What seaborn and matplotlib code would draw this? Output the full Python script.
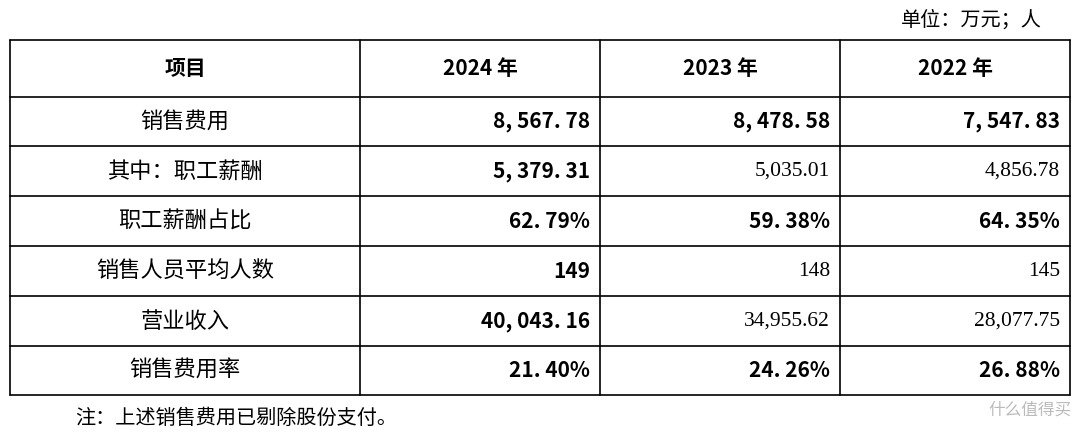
import matplotlib
matplotlib.use("Agg")
import matplotlib.pyplot as plt
import seaborn as sns

sns.set_theme(style="white")
plt.rcParams['font.family'] = ['Noto Sans CJK SC', 'DejaVu Sans']

headers = ["项目", "2024 年", "2023 年", "2022 年"]
items = ["销售费用", "其中：职工薪酬", "职工薪酬占比", "销售人员平均人数", "营业收入", "销售费用率"]
v2024 = ["8, 567. 78", "5, 379. 31", "62. 79%", "149", "40, 043. 16", "21. 40%"]
v2023 = ["8, 478. 58", "5,035.01", "59. 38%", "148", "34,955.62", "24. 26%"]
v2022 = ["7, 547. 83", "4,856.78", "64. 35%", "145", "28,077.75", "26. 88%"]
bold2024 = [True, True, True, True, True, True]
bold2023 = [True, False, True, False, False, True]
bold2022 = [True, False, True, False, False, True]

fig = plt.figure(figsize=(10.8, 4.33), dpi=100)
ax = fig.add_axes([0, 0, 1, 1])
ax.set_xlim(0, 1080)
ax.set_ylim(433, 0)
ax.axis("off")

cols = [10, 360, 600, 840, 1070]
rows = [40, 97, 146, 196, 246, 296, 346, 395]

for y in rows:
    ax.plot([cols[0], cols[-1]], [y, y], color="black", lw=1.2)
for x in cols:
    ax.plot([x, x], [rows[0], rows[-1]], color="black", lw=1.2)

for i, h in enumerate(headers):
    ax.text((cols[i] + cols[i + 1]) / 2, (rows[0] + rows[1]) / 2, h,
            ha="center", va="center", fontsize=15, fontweight="bold", color="black")

for r, name in enumerate(items):
    yc = (rows[r + 1] + rows[r + 2]) / 2
    ax.text((cols[0] + cols[1]) / 2, yc, name, ha="center", va="center",
            fontsize=16, color="black")
    for c, (vals, bolds) in enumerate([(v2024, bold2024), (v2023, bold2023), (v2022, bold2022)]):
        b = bolds[r]
        ax.text(cols[c + 2] - 10, yc, vals[r], ha="right", va="center",
                fontsize=15 if b else 15.5,
                fontweight="bold" if b else "normal",
                family=['Noto Sans CJK SC'] if b else ['Liberation Serif'],
                color="black")

ax.text(1042, 20, "单位：万元；人", ha="right", va="center", fontsize=14.5, color="black")
ax.text(75, 418, "注：上述销售费用已剔除股份支付。", ha="left", va="center", fontsize=14.5, color="black")
ax.text(1072, 410, "什么值得买", ha="right", va="center", fontsize=12, color="#bbbbbb")

fig.savefig("out.png", dpi=100)
